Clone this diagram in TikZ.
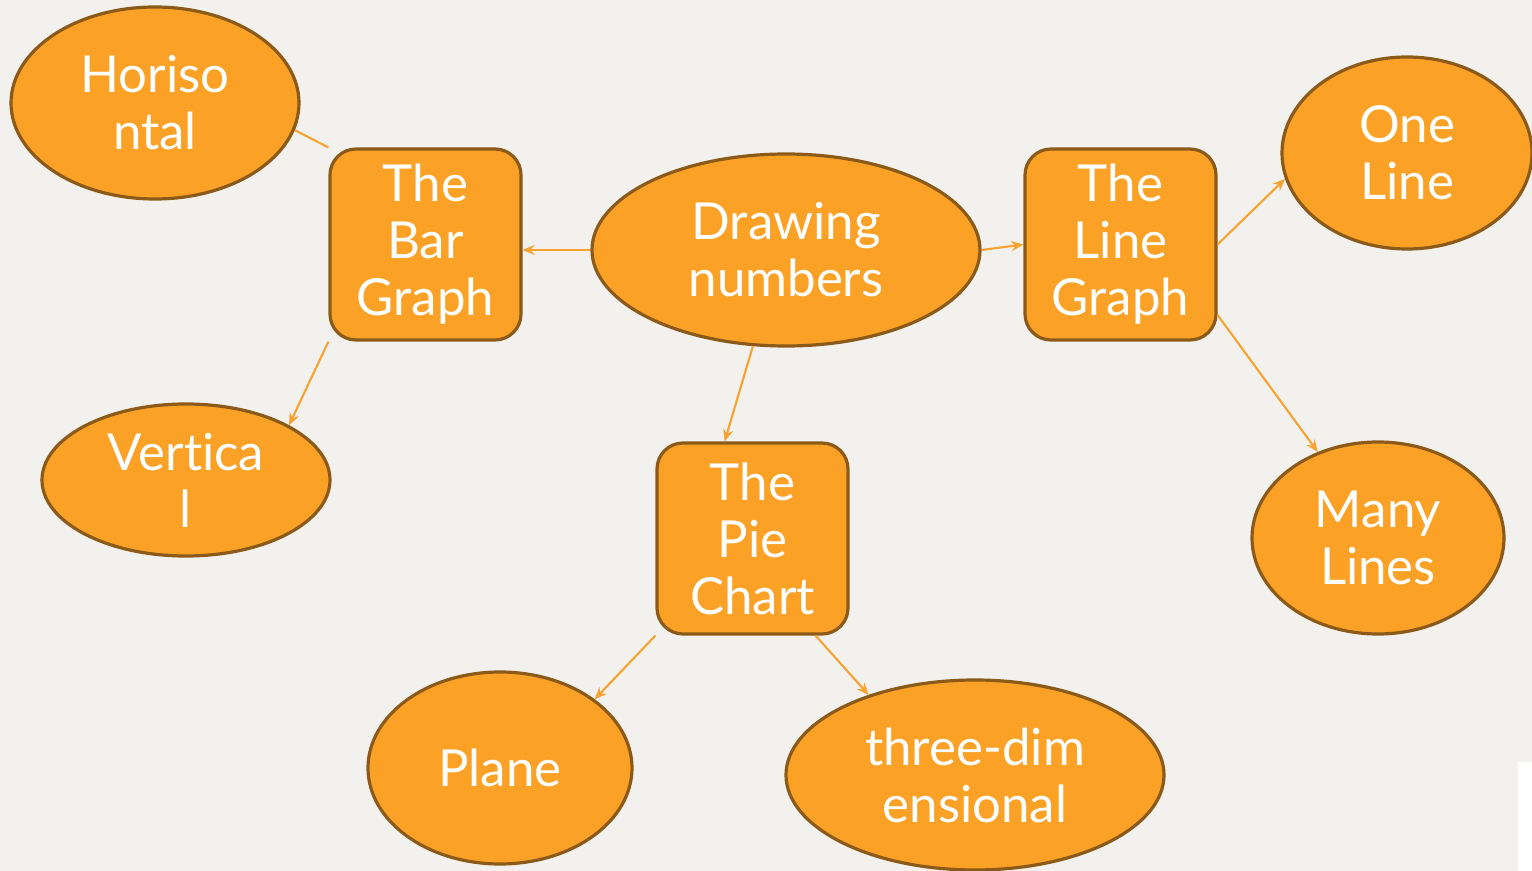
\documentclass[tikz,border=0pt]{standalone}
\usepackage{fontspec}
\setmainfont{Lato}[Ligatures={NoCommon,NoRequired,NoContextual}]
\usetikzlibrary{shapes.geometric,arrows.meta}
\definecolor{bgc}{HTML}{F2F1ED}
\definecolor{fillc}{HTML}{FBA226}
\definecolor{edgec}{HTML}{8C5A18}
\definecolor{linec}{HTML}{F8A232}
\tikzset{
  base/.style={draw=edgec, line width=1.6pt, fill=fillc, text=white, inner sep=0pt, align=center,
    font=\fontsize{25.5}{28.5}\selectfont},
  oval/.style={base, ellipse},
  boxnode/.style={base, rectangle, rounded corners=13pt, minimum width=95.5pt, minimum height=95.5pt},
  arr/.style={draw=linec, line width=1.05pt, -{Stealth[length=6pt,width=5pt]}},
  plain/.style={draw=linec, line width=1.05pt},
}
\begin{document}
\begin{tikzpicture}[x=0.5pt,y=-0.5pt]
\useasboundingbox (0,0) rectangle (1532,871);
\fill[bgc] (0,0) rectangle (1532,871);
\fill[white] (1518,762) rectangle (1532,871);

\node[oval, minimum width=144pt, minimum height=96pt] (hor) at (155,103) {Horiso\\ntal};
\node[boxnode] (bar) at (425.5,244.5) {The\\Bar\\Graph};
\node[oval, minimum width=194pt, minimum height=96pt] (draw) at (786,250) {Drawing\\numbers};
\node[boxnode] (line) at (1120.5,244.5) {The\\Line\\Graph};
\node[oval, minimum width=125pt, minimum height=96pt] (one) at (1407,153) {One\\Line};
\node[oval, minimum width=144pt, minimum height=76pt] (vert) at (186,480) {Vertica\\l};
\node[boxnode] (pie) at (752.5,538.5) {The\\Pie\\Chart};
\node[oval, minimum width=126pt, minimum height=96pt] (many) at (1378,538) {Many\\Lines};
\node[oval, minimum width=132pt, minimum height=96pt] (plane) at (500,768) {Plane};
\node[oval, minimum width=189pt, minimum height=95pt] (three) at (975,775) {three-dim\\ensional};

\draw[arr] (draw.west) -- (bar.east |- draw.west);
\draw[arr] (draw.east) -- (line.west);
\draw[arr] (draw.-109.5) -- (pie.106.7);
\draw[plain] (bar.north west) -- (hor.-11.7);
\draw[arr] (bar.south west) -- (vert.28);
\draw[arr] (line.east) -- (one.-168);
\draw[arr] (line.-36.5) -- (many.125);
\draw[arr] (pie.south west) -- (plane.36.4);
\draw[arr] (pie.-57) -- (three.143.2);
\end{tikzpicture}
\end{document}
